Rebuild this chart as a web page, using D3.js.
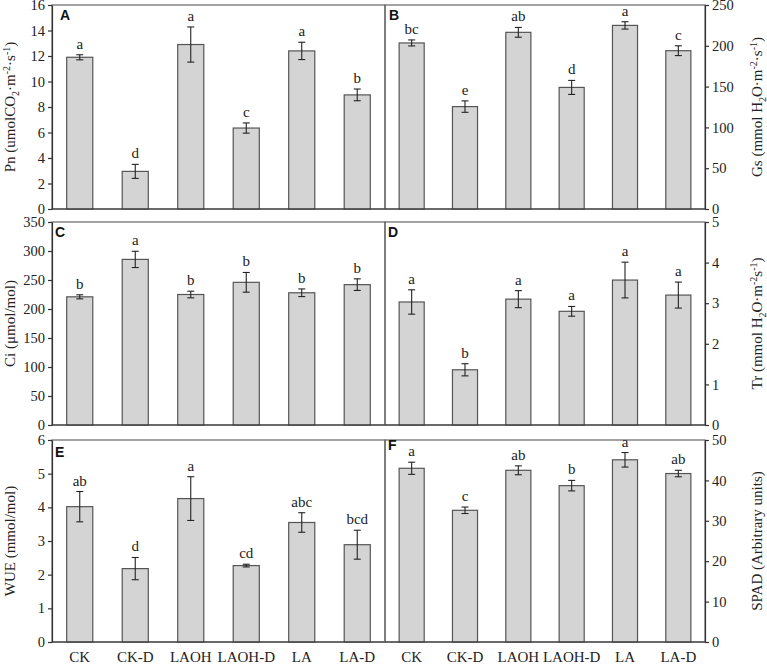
<!DOCTYPE html>
<html lang="en">
<head>
    <meta charset="UTF-8">
    <title>Photosynthesis parameters</title>
    <script src="https://d3js.org/d3.v7.min.js"></script>
    <style>
        body { margin: 0; background: #fff; }
        svg { display: block; }
        text { font-family: "Liberation Serif", "Times New Roman", serif; }
        .tick text { font-size: 14.5px; fill: #222; }
        .panel-id { font-family: "Liberation Sans", Arial, sans-serif; }
    </style>
</head>
<body>
    <div id="chart"></div>
    <script>
        // treatments
        const groups = ["CK", "CK-D", "LAOH", "LAOH-D", "LA", "LA-D"];

        // A: Pn
        const pnMean = [11.9, 2.95, 12.9, 6.35, 12.4, 8.95];
        const pnErr = [0.2, 0.55, 1.38, 0.4, 0.68, 0.46];
        const pnSig = ["a", "d", "a", "c", "a", "b"];

        // B: Gs
        const gsMean = [203.5, 125.5, 216.5, 149, 225, 194];
        const gsErr = [3.7, 7, 6, 8.6, 4.5, 6];
        const gsSig = ["bc", "e", "ab", "d", "a", "c"];

        // C: Ci
        const ciMean = [221, 285.5, 225, 246, 228, 242];
        const ciErr = [3.5, 14, 5.7, 17, 6.6, 10];
        const ciSig = ["b", "a", "b", "b", "b", "b"];

        // D: Tr
        const trMean = [3.03, 1.36, 3.1, 2.8, 3.57, 3.2];
        const trErr = [0.3, 0.15, 0.21, 0.12, 0.44, 0.32];
        const trSig = ["a", "b", "a", "a", "a", "a"];

        // E: WUE
        const wueMean = [4.02, 2.18, 4.26, 2.27, 3.55, 2.89];
        const wueErr = [0.45, 0.33, 0.65, 0.04, 0.29, 0.43];
        const wueSig = ["ab", "d", "a", "cd", "abc", "bcd"];

        // F: SPAD
        const spadMean = [43, 32.6, 42.5, 38.7, 45.1, 41.7];
        const spadErr = [1.5, 0.8, 1.1, 1.3, 1.8, 0.8];
        const spadSig = ["a", "c", "ab", "b", "a", "ab"];

        const W = 767, H = 664;
        const cols = [[52, 385], [385, 705]];
        const rows = [[5, 209], [222, 425], [440, 642]];

        // label parts: [text, "sub"/"sup"/undefined]
        const panels = [
            { id: "A", col: 0, row: 0, mean: pnMean, err: pnErr, sig: pnSig, max: 16, step: 2, side: "left", lx: 60, ly: 20,
              label: [["Pn (umolCO"], ["2", "sub"], ["·m"], ["-2", "sup"], ["·s"], ["-1", "sup"], [")"]] },
            { id: "B", col: 1, row: 0, mean: gsMean, err: gsErr, sig: gsSig, max: 250, step: 50, side: "right", lx: 389, ly: 20,
              label: [["Gs (mmol H"], ["2", "sub"], ["O·m"], ["-2", "sup"], ["·s"], ["-1", "sup"], [")"]] },
            { id: "C", col: 0, row: 1, mean: ciMean, err: ciErr, sig: ciSig, max: 350, step: 50, side: "left", lx: 55, ly: 237,
              label: [["Ci (μmol/mol)"]] },
            { id: "D", col: 1, row: 1, mean: trMean, err: trErr, sig: trSig, max: 5, step: 1, side: "right", lx: 388, ly: 237,
              label: [["Tr (mmol H"], ["2", "sub"], ["O·m"], ["-2", "sup"], ["s"], ["-1", "sup"], [")"]] },
            { id: "E", col: 0, row: 2, mean: wueMean, err: wueErr, sig: wueSig, max: 6, step: 1, side: "left", lx: 55, ly: 457,
              label: [["WUE (mmol/mol)"]] },
            { id: "F", col: 1, row: 2, mean: spadMean, err: spadErr, sig: spadSig, max: 50, step: 10, side: "right", lx: 388, ly: 450,
              label: [["SPAD (Arbitrary units)"]] }
        ];

        const svg = d3.select("#chart").append("svg")
            .attr("width", W)
            .attr("height", H);

        panels.forEach(p => {
            const [x0, x1] = cols[p.col];
            const [y0, y1] = rows[p.row];

            const x = d3.scaleBand().domain(groups).range([x0, x1])
                .paddingInner(0.53).paddingOuter(0.265);
            const y = d3.scaleLinear().domain([0, p.max]).range([y1, y0]);

            const g = svg.append("g");

            // frame
            g.append("rect")
                .attr("x", x0).attr("y", y0)
                .attr("width", x1 - x0).attr("height", y1 - y0)
                .attr("fill", "none")
                .attr("stroke", "#666")
                .attr("stroke-width", 1.2);

            const rows_ = groups.map((k, i) => ({ k, m: p.mean[i], e: p.err[i], s: p.sig[i] }));

            // bars
            g.selectAll(".bar").data(rows_).enter().append("rect")
                .attr("x", d => x(d.k))
                .attr("y", d => y(d.m))
                .attr("width", x.bandwidth())
                .attr("height", d => y(0) - y(d.m))
                .attr("fill", "#d4d4d4")
                .attr("stroke", "#555")
                .attr("stroke-width", 1.2);

            // error bars
            const cx = d => x(d.k) + x.bandwidth() / 2;
            const eb = g.append("g").attr("stroke", "#222").attr("stroke-width", 1.1);
            eb.selectAll(".v").data(rows_).enter().append("line")
                .attr("x1", cx).attr("x2", cx)
                .attr("y1", d => y(d.m - d.e)).attr("y2", d => y(d.m + d.e));
            [1, -1].forEach(sgn => {
                eb.selectAll(".c" + sgn).data(rows_).enter().append("line")
                    .attr("x1", d => cx(d) - 3.5).attr("x2", d => cx(d) + 3.5)
                    .attr("y1", d => y(d.m + sgn * d.e)).attr("y2", d => y(d.m + sgn * d.e));
            });

            // significance letters
            g.selectAll(".sig").data(rows_).enter().append("text")
                .attr("x", cx)
                .attr("y", d => y(d.m + d.e) - 6)
                .attr("text-anchor", "middle")
                .attr("font-size", 15)
                .attr("fill", "#222")
                .text(d => d.s);

            // y axis
            const ticks = d3.range(0, p.max + p.step / 2, p.step);
            const axis = (p.side === "left" ? d3.axisLeft(y) : d3.axisRight(y))
                .tickValues(ticks).tickFormat(d3.format("d"))
                .tickSize(4).tickPadding(3).tickSizeOuter(0);
            const ax = g.append("g")
                .attr("transform", `translate(${p.side === "left" ? x0 : x1},0)`)
                .call(axis);
            ax.attr("font-family", null);
            ax.selectAll("line, path").attr("stroke", "#333").attr("stroke-width", 1.2);

            // x baseline
            g.append("line")
                .attr("x1", x0).attr("x2", x1)
                .attr("y1", y(0)).attr("y2", y(0))
                .attr("stroke", "#333").attr("stroke-width", 1.2);

            // category labels on bottom row
            if (p.row === 2) {
                g.selectAll(".cat").data(groups).enter().append("text")
                    .attr("x", d => x(d) + x.bandwidth() / 2)
                    .attr("y", 662)
                    .attr("text-anchor", "middle")
                    .attr("font-size", 15)
                    .attr("fill", "#222")
                    .text(d => d);
            }

            // panel letter
            g.append("text")
                .attr("class", "panel-id")
                .attr("x", p.lx).attr("y", p.ly)
                .attr("font-weight", "bold")
                .attr("font-size", 14)
                .attr("fill", "#111")
                .text(p.id);

            // axis title
            const tx = p.side === "left" ? 15 : 762;
            const ty = (y0 + y1) / 2;
            const t = g.append("text")
                .attr("transform", `translate(${tx},${ty}) rotate(-90)`)
                .attr("text-anchor", "middle")
                .attr("font-size", 15)
                .attr("fill", "#222");
            let shift = 0;
            p.label.forEach(([s, kind]) => {
                const target = kind === "sub" ? 4 : kind === "sup" ? -5 : 0;
                t.append("tspan")
                    .attr("dy", target - shift)
                    .attr("font-size", kind ? 10 : 15)
                    .text(s);
                shift = target;
            });
        });
    </script>
</body>
</html>
